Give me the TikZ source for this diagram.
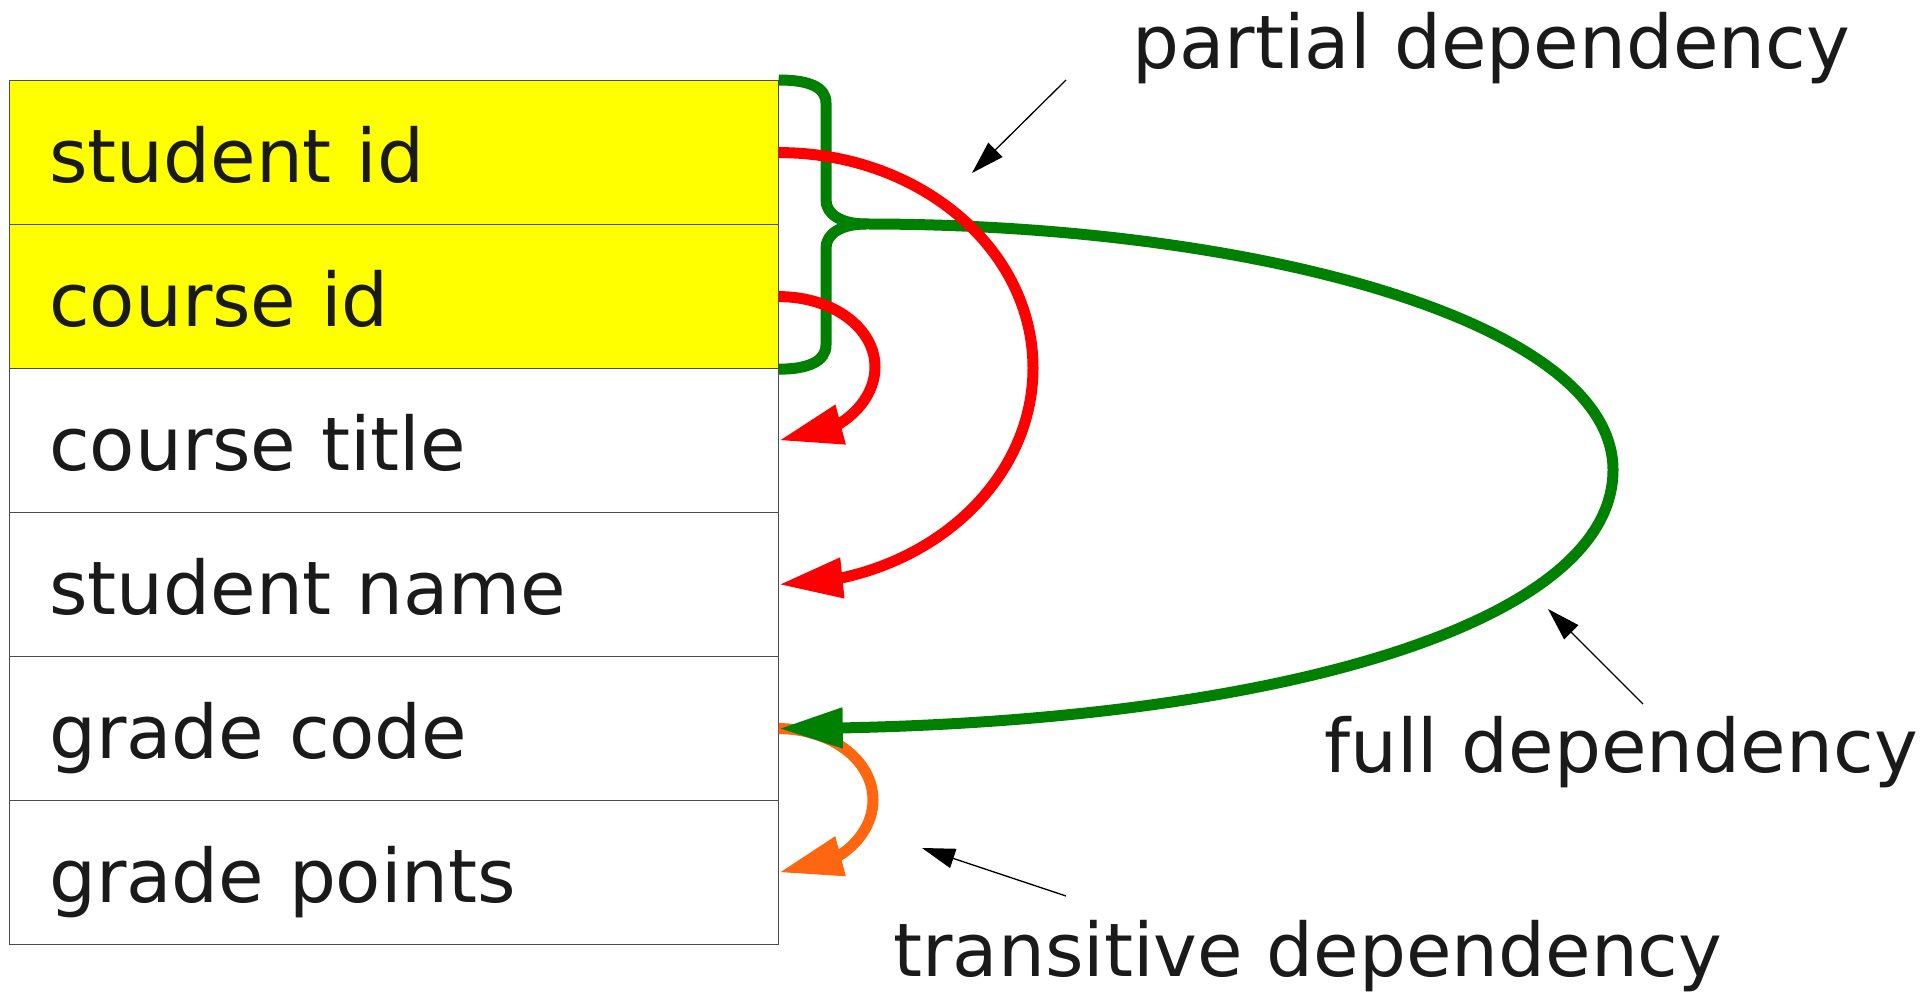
\documentclass[tikz,border=0pt]{standalone}
\usepackage{fontspec}
\setmainfont{DejaVu Sans}
\usetikzlibrary{arrows.meta,bending}
\definecolor{keyyellow}{HTML}{FFFF00}
\definecolor{depgreen}{HTML}{008000}
\definecolor{depred}{HTML}{FF0000}
\definecolor{deporange}{HTML}{FF6611}
\definecolor{inkgray}{HTML}{1A1A1A}
\begin{document}
\begin{tikzpicture}[x=0.5pt,y=-0.5pt,
  every node/.style={font=\fontsize{37pt}{44pt}\selectfont,text=inkgray},
  row/.style={draw=black!70,line width=0.6pt,minimum width=384.5pt,minimum height=72pt,
    inner xsep=20pt,inner ysep=0pt,text width=344.5pt,align=left,
    text height=31pt,text depth=1pt,anchor=north west},
  dep/.style={line width=5.5pt,-{Triangle[length=32pt,width=19pt,flex]}},
  note/.style={line width=0.65pt,black,-{Triangle[length=16.5pt,width=10pt]}},
  lbl/.style={inner sep=0pt,anchor=base west}]
\useasboundingbox (0,0) rectangle (1922,994);
% table of attributes
\foreach \i/\txt/\col in {1/student id/keyyellow,2/course id/keyyellow,3/course title/white,
  4/student name/white,5/grade code/white,6/grade points/white} {
  \node[row,fill=\col] (r\i) at (8.5,{80+144*(\i-1)}) {\txt};
}
% labels
\node[lbl] (partial) at (1132,69) {partial dependency};
\node[lbl] (full) at (1324,772) {full dependency};
\node[lbl] (trans) at (893,976) {transitive dependency};
% transitive
\draw[dep,deporange] (r5.east) .. controls +(52,0) and +(0,-40) .. (873,800)
  .. controls +(0,40) and +(52,0) .. (r6.east);
% brace over the key + full dependency
\coordinate (tip) at (866,224);
\draw[depgreen,line width=5.5pt] (r2.south east) .. controls +(30,0) and +(0,16) .. (826,345)
  -- (826,248) .. controls +(0,-14) and +(-25,0) .. (tip);
\draw[dep,depgreen] (r1.north east) .. controls +(30,0) and +(0,-16) .. (826,103)
  -- (826,200) .. controls +(0,14) and +(-25,0) .. (tip)
  .. controls (1250,224) and (1613,320) .. (1613,470)
  .. controls (1613,630) and (1250,728) .. (r5.east);
% partial
\draw[dep,depred] (r1.east) .. controls +(141,0) and +(0,-119) .. (1033,368)
  .. controls +(0,119) and +(141,0) .. (r4.east);
\draw[dep,depred] (r2.east) .. controls +(54,0) and +(0,-39) .. (875,367)
  .. controls +(0,39) and +(54,0) .. (r3.east);
% pointers from the labels
\coordinate (pa) at (1066,80);   \coordinate (pb) at (972,173);
\coordinate (fa) at (1643,704);  \coordinate (fb) at (1548,609);
\coordinate (ta) at (1066,896);  \coordinate (tb) at (922,848);
\draw[note] (pa) -- (pb);
\draw[note] (fa) -- (fb);
\draw[note] (ta) -- (tb);
\end{tikzpicture}
\end{document}
